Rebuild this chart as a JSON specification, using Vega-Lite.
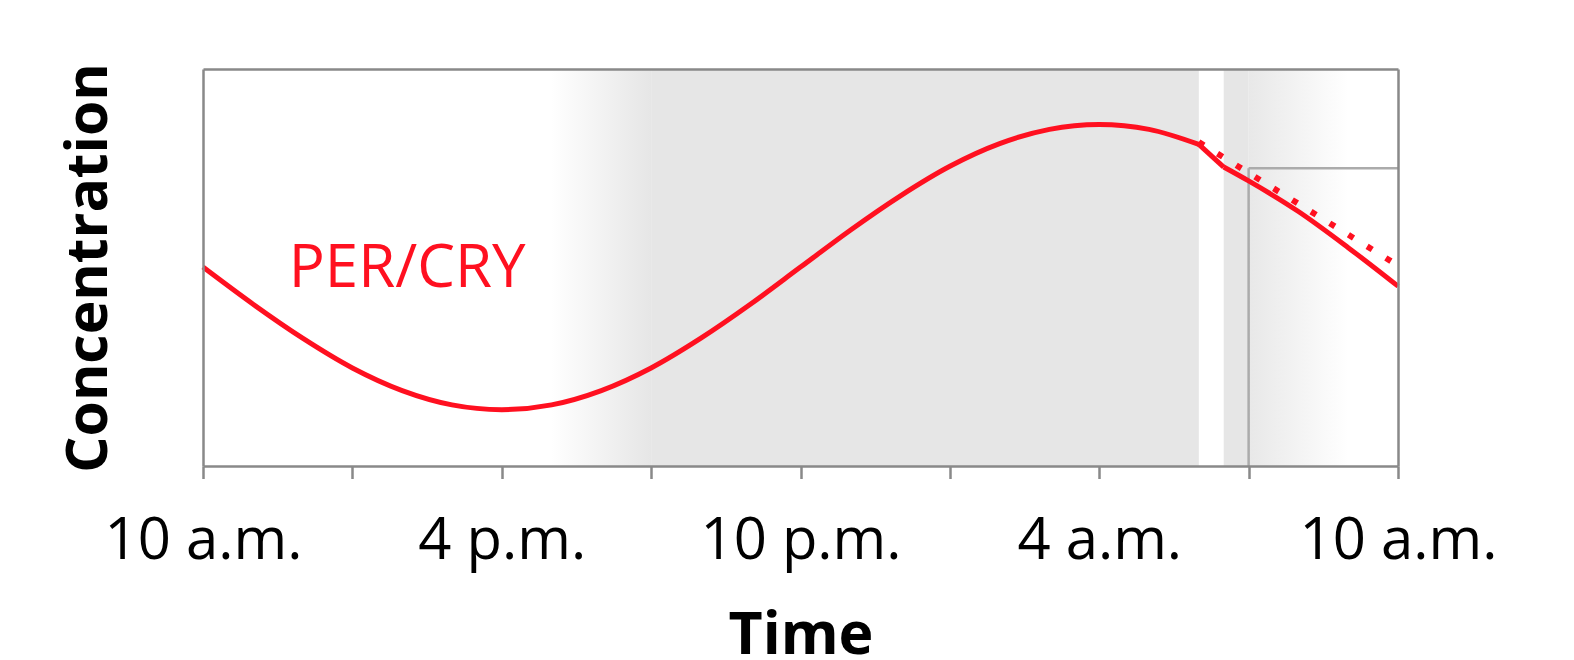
{
  "$schema": "https://vega.github.io/schema/vega-lite/v6.json",
  "width": 1195,
  "height": 397,
  "autosize": {"type": "none"},
  "padding": {"left": 203, "top": 69, "right": 176, "bottom": 194},
  "background": "white",
  "config": {
    "view": {"stroke": null},
    "font": "Open Sans",
    "axis": {
      "grid": false,
      "domainColor": "#898989",
      "domainWidth": 2.5,
      "tickColor": "#898989",
      "tickWidth": 2.5,
      "zindex": 1
    }
  },
  "layer": [
    {
      "data": {"values": [{"start": 9, "end": 20}, {"start": 20.5, "end": 21}]},
      "mark": {"type": "rect", "color": "#e6e6e6"},
      "encoding": {
        "x": {"field": "start", "type": "quantitative", "scale": {"domain": [0, 24], "nice": false, "zero": false}, "axis": null},
        "x2": {"field": "end"}
      }
    },
    {
      "data": {"values": [{"start": 7, "end": 9}]},
      "mark": {
        "type": "rect",
        "color": {"gradient": "linear", "x1": 0, "x2": 1, "y1": 0, "y2": 0,
          "stops": [{"offset": 0, "color": "#ffffff"}, {"offset": 1, "color": "#e6e6e6"}]}
      },
      "encoding": {
        "x": {"field": "start", "type": "quantitative", "axis": null},
        "x2": {"field": "end"}
      }
    },
    {
      "data": {"values": [{"start": 21, "end": 23}]},
      "mark": {
        "type": "rect",
        "color": {"gradient": "linear", "x1": 0, "x2": 1, "y1": 0, "y2": 0,
          "stops": [{"offset": 0, "color": "#e8e8e8"}, {"offset": 1, "color": "#ffffff"}]}
      },
      "encoding": {
        "x": {"field": "start", "type": "quantitative", "axis": null},
        "x2": {"field": "end"}
      }
    },
    {
      "data": {"values": [
        {"x": 21, "x2": 24, "y": 75, "y2": 75},
        {"x": 21, "x2": 21, "y": 0, "y2": 75}
      ]},
      "mark": {"type": "rule", "color": "#ababab", "strokeWidth": 2.5},
      "encoding": {
        "x": {"field": "x", "type": "quantitative", "axis": null},
        "x2": {"field": "x2"},
        "y": {"field": "y", "type": "quantitative", "axis": null},
        "y2": {"field": "y2"}
      }
    },
    {
      "data": {"values": [
        {"h": 0, "v": 50.1}, {"h": 1, "v": 40.8}, {"h": 2, "v": 32.2}, {"h": 3, "v": 24.7},
        {"h": 4, "v": 19.0}, {"h": 5, "v": 15.4}, {"h": 6, "v": 14.2}, {"h": 7, "v": 15.4},
        {"h": 8, "v": 19.0}, {"h": 9, "v": 24.7}, {"h": 10, "v": 32.2}, {"h": 11, "v": 40.8},
        {"h": 12, "v": 50.1}, {"h": 13, "v": 59.4}, {"h": 14, "v": 68.0}, {"h": 15, "v": 75.5},
        {"h": 16, "v": 81.2}, {"h": 17, "v": 84.8}, {"h": 18, "v": 86.0}, {"h": 19, "v": 84.8},
        {"h": 20, "v": 81.0}
      ]},
      "mark": {"type": "line", "color": "#ff1020", "strokeWidth": 5, "interpolate": "monotone"},
      "encoding": {
        "x": {
          "field": "h", "type": "quantitative",
          "scale": {"domain": [0, 24], "nice": false, "zero": false},
          "axis": {
            "orient": "bottom",
            "zindex": 2,
            "values": [0, 3, 6, 9, 12, 15, 18, 21, 24],
            "labelExpr": "datum.value == 0 || datum.value == 24 ? '10 a.m.' : datum.value == 6 ? '4 p.m.' : datum.value == 12 ? '10 p.m.' : datum.value == 18 ? '4 a.m.' : ''",
            "labelFont": "Open Sans",
            "labelFontSize": 58,
            "labelColor": "black",
            "labelBaseline": "alphabetic",
            "labelPadding": 80,
            "labelLimit": 0,
            "labelFlush": false,
            "labelOverlap": false,
            "tickSize": 12.5,
            "title": "Time",
            "titleFont": "Open Sans",
            "titleFontSize": 59,
            "titleFontWeight": "bold",
            "titleColor": "black",
            "titleBaseline": "alphabetic",
            "titleY": 187
          }
        },
        "y": {
          "field": "v", "type": "quantitative",
          "scale": {"domain": [0, 100], "nice": false, "zero": false},
          "axis": {
            "orient": "left",
            "zindex": 2,
            "ticks": false,
            "labels": false,
            "title": "Concentration",
            "titleFont": "Open Sans",
            "titleFontSize": 57,
            "titleFontWeight": "bold",
            "titleColor": "black",
            "titleBaseline": "alphabetic",
            "titleAlign": "center",
            "titleAngle": 270,
            "titleX": -97,
            "titleY": 198.5
          }
        }
      }
    },
    {
      "data": {"values": [
        {"h": 20, "v": 81.0}, {"h": 20.5, "v": 75.3}
      ]},
      "mark": {"type": "line", "color": "#ff1020", "strokeWidth": 5},
      "encoding": {
        "x": {"field": "h", "type": "quantitative", "axis": null},
        "y": {"field": "v", "type": "quantitative", "axis": null}
      }
    },
    {
      "data": {"values": [
        {"h": 20.5, "v": 75.3}, {"h": 21, "v": 71.8}, {"h": 22, "v": 64.1},
        {"h": 23, "v": 55.0}, {"h": 24, "v": 45.3}
      ]},
      "mark": {"type": "line", "color": "#ff1020", "strokeWidth": 5, "interpolate": "monotone"},
      "encoding": {
        "x": {"field": "h", "type": "quantitative", "axis": null},
        "y": {"field": "v", "type": "quantitative", "axis": null}
      }
    },
    {
      "data": {"values": [{"h": 20, "v": 81.6}, {"h": 24, "v": 50.5}]},
      "mark": {"type": "line", "color": "#ff1020", "strokeWidth": 6, "strokeDash": [6, 16], "strokeCap": "butt"},
      "encoding": {
        "x": {"field": "h", "type": "quantitative",
          "axis": {"orient": "top", "zindex": 2, "labels": false, "ticks": false, "title": null}},
        "y": {"field": "v", "type": "quantitative",
          "axis": {"orient": "right", "zindex": 2, "labels": false, "ticks": false, "title": null}}
      }
    },
    {
      "data": {"values": [{"label": "PER/CRY", "h": 4.1, "v": 45.1}]},
      "mark": {"type": "text", "font": "Open Sans", "fontSize": 60, "color": "#ff1020", "align": "center", "baseline": "alphabetic"},
      "encoding": {
        "x": {"field": "h", "type": "quantitative", "axis": null},
        "y": {"field": "v", "type": "quantitative", "axis": null},
        "text": {"field": "label"}
      }
    }
  ],
  "resolve": {"axis": {"x": "independent", "y": "independent"}}
}
